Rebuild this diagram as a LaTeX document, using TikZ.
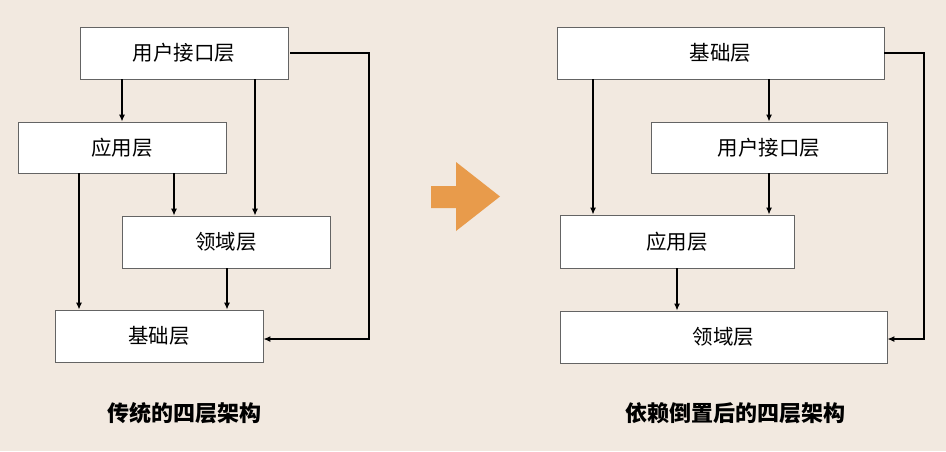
\documentclass[tikz,border=0pt]{standalone}
\usepackage{fontspec}
\setmainfont{Noto Sans CJK SC}
\usetikzlibrary{arrows.meta}
\definecolor{bg}{RGB}{242,233,224}
\definecolor{boxline}{RGB}{100,100,100}
\definecolor{orangearrow}{RGB}{232,155,75}
\tikzset{
  layer/.style={draw=boxline, line width=0.9pt, fill=white, inner sep=0pt, font=\fontsize{20.5}{24}\selectfont},
  arr/.style={draw=black, line width=1.2pt, -{Latex[length=7pt,width=6pt]}},
  title/.style={font=\fontsize{22}{26}\selectfont\bfseries}
}
\begin{document}
\begin{tikzpicture}[x=1pt,y=-1pt]
\useasboundingbox (0,0) rectangle (946,451);
\fill[bg] (0,0) rectangle (946,451);

% left diagram
\node[layer, minimum width=208pt, minimum height=52pt] (LUI) at (184,53) {用户接口层};
\node[layer, minimum width=208pt, minimum height=51pt] (LApp) at (122,147.5) {应用层};
\node[layer, minimum width=208pt, minimum height=52pt] (LDom) at (226,242) {领域层};
\node[layer, minimum width=208pt, minimum height=52pt] (LInf) at (159,336) {基础层};

\coordinate (xa) at (255,0);
\coordinate (xl) at (369,0);
\coordinate (xb) at (79,0);
\coordinate (xc) at (174,0);
\coordinate (xd) at (227,0);

\draw[arr] (LUI.south -| LApp.north) -- (LApp.north);
\draw[arr] (LUI.south -| xa) -- (LDom.north -| xa);
\draw[arr] ([xshift=2pt]LUI.east) -- (LUI.east -| xl) |- ([yshift=-3pt]LInf.east);
\draw[arr] (LApp.south -| xb) -- (LInf.north -| xb);
\draw[arr] (LApp.south -| xc) -- (LDom.north -| xc);
\draw[arr] (LDom.south -| xd) -- (LInf.north -| xd);

\node[title] (LT) at (184,413) {传统的四层架构};

% orange arrow
\fill[orangearrow] (431,186) -- (456,186) -- (456,162) -- (500,196.5) -- (456,231) -- (456,208) -- (431,208) -- cycle;

% right diagram
\node[layer, minimum width=327pt, minimum height=52pt] (RInf) at (720.5,53) {基础层};
\node[layer, minimum width=236pt, minimum height=51pt] (RUI) at (769,147.5) {用户接口层};
\node[layer, minimum width=234pt, minimum height=53pt] (RApp) at (677,241.5) {应用层};
\node[layer, minimum width=327pt, minimum height=52pt] (RDom) at (723.5,337) {领域层};

\coordinate (xe) at (593,0);
\coordinate (xr) at (924,0);

\draw[arr] (RInf.south -| xe) -- (RApp.north -| xe);
\draw[arr] (RInf.south -| RUI.north) -- (RUI.north);
\draw[arr] (RInf.east) -- (RInf.east -| xr) |- ([yshift=-2pt]RDom.east);
\draw[arr] (RUI.south) -- (RUI.south |- RApp.north);
\draw[arr] (RApp.south) -- (RApp.south |- RDom.north);

\node[title] (RT) at (735,413) {依赖倒置后的四层架构};
\end{tikzpicture}
\end{document}
